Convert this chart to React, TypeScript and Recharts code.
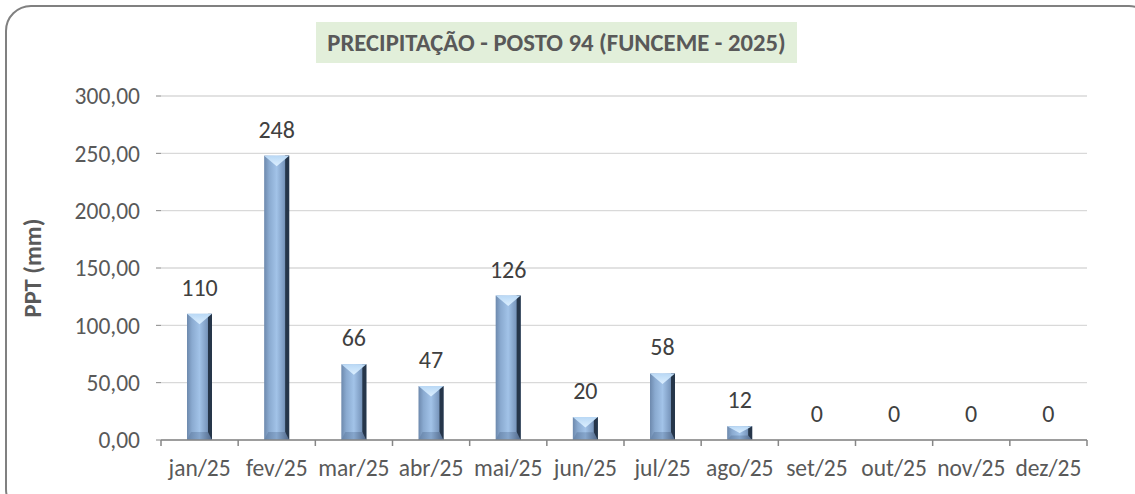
import React from "react";
import { BarChart, Bar, XAxis, YAxis, CartesianGrid, LabelList } from "recharts";

const months = ["jan/25", "fev/25", "mar/25", "abr/25", "mai/25", "jun/25", "jul/25", "ago/25", "set/25", "out/25", "nov/25", "dez/25"];
const rainfall = [110, 248, 66, 47, 126, 20, 58, 12, 0, 0, 0, 0];
const yTicks = [0, 50, 100, 150, 200, 250, 300];

const chartData = months.map((m, i) => ({ month: m, ppt: rainfall[i] }));

const W = 1135;
const H = 494;
const PLOT_LEFT = 161;
const PLOT_RIGHT = 1087;
const FONT = "Carlito, 'Open Sans', sans-serif";
const band = (PLOT_RIGHT - PLOT_LEFT) / months.length;

const BevelBar = (props: any) => {
  const { x, y, width, height } = props;
  if (!height || height <= 0) return null;
  const topB = Math.min(width * 0.42, height / 2);
  const botB = Math.min(8, height / 3);
  const side = 4;
  return (
    <g>
      <rect x={x} y={y} width={width} height={height} fill="url(#barBody)" />
      <rect x={x + width - side} y={y} width={side} height={height} fill="#26364a" />
      <polygon
        points={`${x},${y} ${x + width},${y} ${x + width / 2},${y + topB}`}
        fill="url(#barTop)"
      />
      <polygon
        points={`${x},${y + height} ${x + width},${y + height} ${x + width - side},${y + height - botB} ${x + side},${y + height - botB}`}
        fill="url(#barBottom)"
      />
    </g>
  );
};

const MonthTick = (props: any) => {
  const { x, y, payload, index } = props;
  return (
    <g>
      <line x1={x + band / 2} y1={y - 8} x2={x + band / 2} y2={y - 2} stroke="#868686" strokeWidth={1.5} />
      {index === 0 && (
        <line x1={x - band / 2} y1={y - 8} x2={x - band / 2} y2={y - 2} stroke="#868686" strokeWidth={1.5} />
      )}
      <text x={x} y={y + 28} textAnchor="middle" fill="#595959" fontSize={23.5} fontFamily={FONT}>
        {payload.value}
      </text>
    </g>
  );
};

export default function App() {
  return (
    <div style={{ position: "absolute", left: 0, top: 0, width: W, height: H, overflow: "hidden", background: "#fff" }}>
      <div
        style={{
          position: "absolute",
          left: 5,
          top: 5,
          width: 1150,
          height: 510,
          border: "2px solid #808080",
          borderRadius: 26,
          boxSizing: "border-box",
        }}
      />
      <div
        style={{
          position: "absolute",
          left: 316,
          top: 22,
          width: 481,
          height: 41,
          background: "#e2efda",
          color: "#595959",
          fontFamily: FONT,
          fontWeight: 700,
          fontSize: 24.7,
          lineHeight: "42px",
          textAlign: "center",
          whiteSpace: "nowrap",
        }}
      >
        PRECIPITAÇÃO - POSTO 94 (FUNCEME - 2025)
      </div>
      <div style={{ position: "absolute", left: 0, top: 0 }}>
        <BarChart width={W} height={H} data={chartData} margin={{ top: 96, right: W - PLOT_RIGHT, bottom: 0, left: 0 }} barSize={25}>
          <defs>
            <linearGradient id="barBody" x1="0" y1="0" x2="1" y2="0">
              <stop offset="0%" stopColor="#6d89ad" />
              <stop offset="20%" stopColor="#8aaad0" />
              <stop offset="50%" stopColor="#a2c3e8" />
              <stop offset="80%" stopColor="#7b99bf" />
              <stop offset="100%" stopColor="#4a6282" />
            </linearGradient>
            <linearGradient id="barTop" x1="0" y1="0" x2="0" y2="1">
              <stop offset="0%" stopColor="#b9d8f5" />
              <stop offset="100%" stopColor="#dcefff" />
            </linearGradient>
            <linearGradient id="barBottom" x1="0" y1="0" x2="1" y2="0">
              <stop offset="0%" stopColor="#6784a9" />
              <stop offset="50%" stopColor="#86a6cc" />
              <stop offset="100%" stopColor="#52698a" />
            </linearGradient>
          </defs>
          <CartesianGrid vertical={false} stroke="#d9d9d9" strokeWidth={1.3} />
          <XAxis
            dataKey="month"
            axisLine={{ stroke: "#868686", strokeWidth: 1.5 }}
            tickLine={false}
            tick={<MonthTick />}
            interval={0}
            height={54}
          />
          <YAxis
            width={PLOT_LEFT}
            domain={[0, 300]}
            ticks={yTicks}
            axisLine={false}
            tickLine={{ stroke: "#868686" }}
            tickSize={5}
            tickMargin={16}
            tickFormatter={(v: number) => v.toFixed(2).replace(".", ",")}
            tick={{ fill: "#595959", fontSize: 23.5, fontFamily: FONT }}
            label={{
              value: "PPT (mm)",
              angle: -90,
              position: "insideLeft",
              offset: 32,
              style: { fill: "#595959", fontSize: 24.5, fontWeight: 700, fontFamily: FONT, textAnchor: "middle" },
            }}
          />
          <Bar dataKey="ppt" shape={<BevelBar />} isAnimationActive={false}>
            <LabelList
              dataKey="ppt"
              position="top"
              offset={18}
              fill="#404040"
              fontSize={24}
              fontFamily={FONT}
              formatter={(v: any) => String(Math.round(Number(v)))}
            />
          </Bar>
        </BarChart>
      </div>
    </div>
  );
}
